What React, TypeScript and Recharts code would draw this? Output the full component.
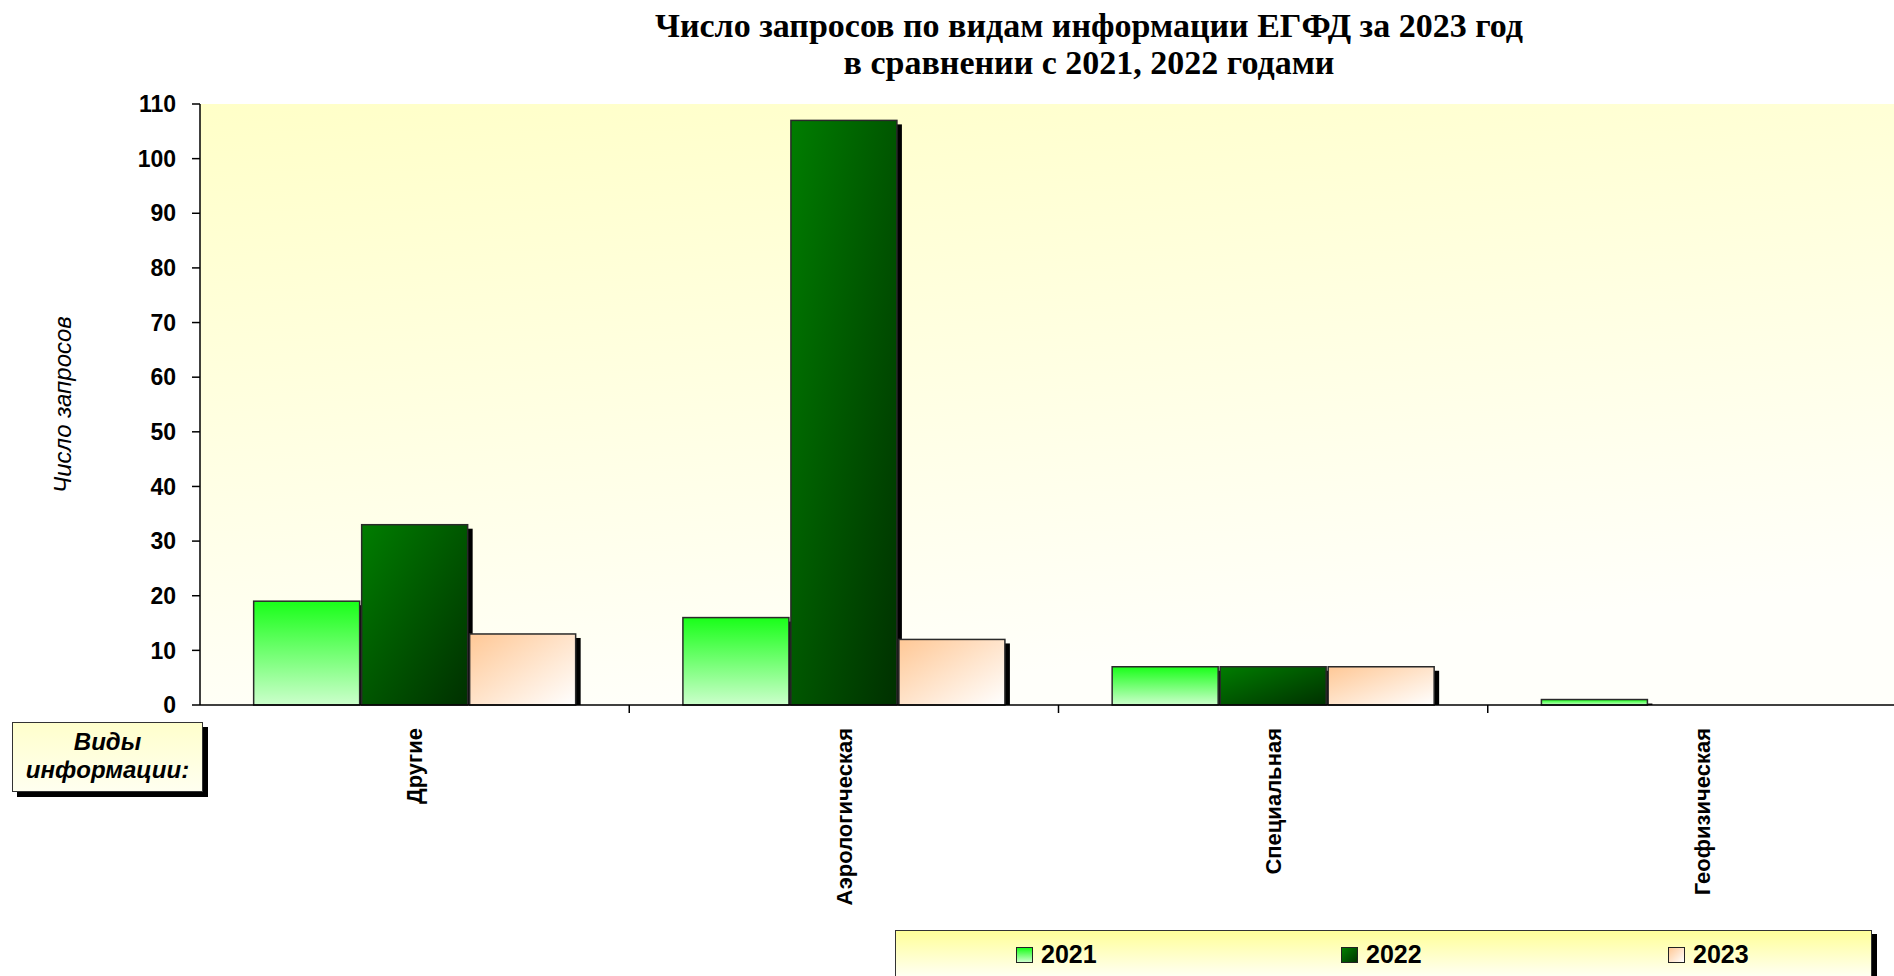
import React from "react"
import { BarChart, Bar, XAxis, YAxis, CartesianGrid, Legend } from "recharts"

const categories = ["Другие", "Аэрологическая", "Специальная", "Геофизическая"]
const years = ["2021", "2022", "2023"]
const values2021 = [19, 16, 7, 1]
const values2022 = [33, 107, 7, 0]
const values2023 = [13, 12, 7, 0]
const yTicks = [0, 10, 20, 30, 40, 50, 60, 70, 80, 90, 100, 110]

const data = categories.map((name, i) => ({
  name,
  "2021": values2021[i],
  "2022": values2022[i],
  "2023": values2023[i],
}))

// layout
const CHART_W = 1917
const CHART_H = 976
const Y_AXIS_W = 200
const TOP = 104
const X_AXIS_H = 271
const BAND = (CHART_W - Y_AXIS_W) / categories.length

const fills: Record<string, string> = {
  "2021": "url(#g2021)",
  "2022": "url(#g2022)",
  "2023": "url(#g2023)",
}
const swatches: Record<string, string> = {
  "2021": "linear-gradient(180deg, #19ff19, #ccffcc)",
  "2022": "linear-gradient(135deg, #008000, #003300)",
  "2023": "linear-gradient(135deg, #ffc896, #ffffff)",
}

const sans = "'Liberation Sans', Arial, sans-serif"

const ShadowBar = (props: any) => {
  const { x, y, width, height, fill } = props
  if (!height || height <= 0) return null
  return (
    <g>
      <rect x={x + 5} y={y + 4} width={width} height={Math.max(height - 4, 0)} fill="#000" />
      <rect x={x} y={y} width={width} height={height} fill={fill} stroke="#2a2a2a" strokeWidth={1.5} />
    </g>
  )
}

const CategoryTick = (props: any) => {
  const { x, y, payload, index } = props
  return (
    <g>
      {index > 0 && (
        <line x1={x - BAND / 2} y1={y} x2={x - BAND / 2} y2={y + 8} stroke="#000" strokeWidth={1.5} />
      )}
      <text
        transform={`translate(${x},${y + 23}) rotate(-90)`}
        textAnchor="end"
        dy="0.35em"
        fontSize={22}
        fontWeight="bold"
        fontFamily={sans}
        fill="#000"
      >
        {payload.value}
      </text>
    </g>
  )
}

const YLabel = (props: any) => {
  const { viewBox } = props
  const cx = 63
  const cy = viewBox.y + viewBox.height / 2
  return (
    <text
      transform={`translate(${cx},${cy}) rotate(-90)`}
      textAnchor="middle"
      dy="0.35em"
      fontSize={24}
      fontStyle="italic"
      fontFamily={sans}
      fill="#000"
    >
      Число запросов
    </text>
  )
}

const LegendBox = () => (
  <div
    style={{
      position: "relative",
      width: 977,
      height: 48,
      boxSizing: "border-box",
      border: "1.5px solid #333",
      background: "linear-gradient(180deg, #ffff99, #fffff4)",
      boxShadow: "5px 4px 0 #000",
    }}
  >
    {years.map((yr, i) => (
      <div
        key={yr}
        style={{
          position: "absolute",
          left: [120, 445, 772][i],
          top: 9,
          display: "flex",
          alignItems: "center",
          fontFamily: sans,
          fontWeight: "bold",
          fontSize: 25,
          color: "#000",
        }}
      >
        <span
          style={{
            display: "inline-block",
            width: 15,
            height: 14,
            border: "1.5px solid #222",
            background: swatches[yr],
            marginRight: 8,
          }}
        />
        {yr}
      </div>
    ))}
  </div>
)

export default function App() {
  return (
    <div
      style={{
        position: "fixed",
        left: 0,
        top: 0,
        width: 1894,
        height: 976,
        overflow: "hidden",
        background: "#fff",
      }}
    >
      <div
        style={{
          position: "absolute",
          left: 1089,
          top: 7,
          transform: "translateX(-50%)",
          whiteSpace: "nowrap",
          textAlign: "center",
          fontFamily: "'Liberation Serif', 'Times New Roman', serif",
          fontWeight: "bold",
          fontSize: 34,
          lineHeight: "37px",
          color: "#000",
          zIndex: 2,
        }}
      >
        Число запросов по видам информации ЕГФД за 2023 год
        <br />в сравнении с 2021, 2022 годами
      </div>

      <div
        style={{
          position: "absolute",
          left: 12,
          top: 722,
          width: 191,
          height: 70,
          boxSizing: "border-box",
          border: "1.5px solid #333",
          background: "linear-gradient(180deg, #ffffcc, #fffff0)",
          boxShadow: "5px 5px 0 #000",
          fontFamily: sans,
          fontWeight: "bold",
          fontStyle: "italic",
          fontSize: 24,
          lineHeight: "28px",
          textAlign: "center",
          paddingTop: 5,
          color: "#000",
          zIndex: 2,
        }}
      >
        Виды
        <br />
        информации:
      </div>

      <BarChart
        width={CHART_W}
        height={CHART_H}
        data={data}
        margin={{ top: TOP, right: 0, left: 0, bottom: 0 }}
        barCategoryGap="12.5%"
        barGap={2}
      >
        <defs>
          <linearGradient id="bgGrad" x1="0" y1="0" x2="0.3" y2="1">
            <stop offset="0%" stopColor="#ffffc8" />
            <stop offset="100%" stopColor="#fffffa" />
          </linearGradient>
          <linearGradient id="g2021" x1="0" y1="0" x2="0" y2="1">
            <stop offset="0%" stopColor="#19ff19" />
            <stop offset="100%" stopColor="#ccffcc" />
          </linearGradient>
          <linearGradient id="g2022" x1="0" y1="0" x2="1" y2="1">
            <stop offset="0%" stopColor="#007d00" />
            <stop offset="100%" stopColor="#003000" />
          </linearGradient>
          <linearGradient id="g2023" x1="0" y1="0" x2="1" y2="1">
            <stop offset="0%" stopColor="#ffc896" />
            <stop offset="100%" stopColor="#ffffff" />
          </linearGradient>
        </defs>

        <CartesianGrid horizontal={false} vertical={false} fill="url(#bgGrad)" />

        <XAxis
          dataKey="name"
          height={X_AXIS_H}
          interval={0}
          tickLine={false}
          tickSize={0}
          tickMargin={0}
          axisLine={{ stroke: "#000", strokeWidth: 1.5 }}
          tick={<CategoryTick />}
        />

        <YAxis
          width={Y_AXIS_W}
          domain={[0, 110]}
          ticks={yTicks}
          interval={0}
          tickSize={8}
          tickMargin={16}
          axisLine={{ stroke: "#000", strokeWidth: 1.5 }}
          tickLine={{ stroke: "#000", strokeWidth: 1.5 }}
          tick={{ fontSize: 23, fontWeight: "bold", fontFamily: sans, fill: "#000" }}
          label={<YLabel />}
        />

        <Legend
          layout="horizontal"
          verticalAlign="middle"
          align="center"
          wrapperStyle={{ left: 895, top: 930, width: 977, height: 48 }}
          content={() => <LegendBox />}
        />

        {years.map((yr) => (
          <Bar
            key={yr}
            dataKey={yr}
            fill={fills[yr]}
            shape={<ShadowBar />}
            isAnimationActive={false}
          />
        ))}
      </BarChart>
    </div>
  )
}
